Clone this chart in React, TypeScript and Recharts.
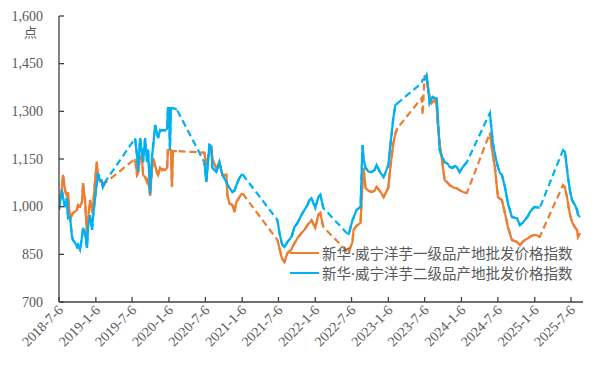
import React from 'react';
import { LineChart, Line, XAxis, YAxis } from 'recharts';

// Dates of observations; null values mark the off-season breaks (drawn as dashed connectors)
const dates = [
  '2018-7-6', '2018-7-11', '2018-7-21', '2018-7-26', '2018-8-5', '2018-8-15', '2018-8-20', '2018-8-30',
  '2018-9-9', '2018-9-14', '2018-9-24', '2018-10-4', '2018-10-9', '2018-10-19', '2018-10-29', '2018-11-3',
  '2018-11-13', '2018-11-23', '2018-11-28', '2018-12-8', '2018-12-18', '2018-12-23', '2019-1-1', '2019-1-11',
  '2019-1-16', '2019-1-26', '2019-2-5', '2019-2-10', '2019-2-20',
  '2019-4-15',
  '2019-7-21', '2019-7-31', '2019-8-5', '2019-8-15', '2019-8-25', '2019-8-30', '2019-9-9', '2019-9-19',
  '2019-9-24', '2019-10-4', '2019-10-14', '2019-10-19', '2019-10-29', '2019-11-8', '2019-11-13', '2019-11-23',
  '2019-12-3', '2019-12-8', '2019-12-18', '2019-12-28', '2020-1-1', '2020-1-6', '2020-1-11', '2020-1-16',
  '2020-1-21', '2020-1-26', '2020-2-5', '2020-2-15',
  '2020-4-15',
  '2020-7-1', '2020-7-11', '2020-7-26', '2020-8-5', '2020-8-10', '2020-8-30', '2020-9-14', '2020-9-29',
  '2020-10-19', '2020-10-24', '2020-11-3', '2020-11-18', '2020-11-28', '2020-12-8', '2020-12-23', '2021-1-6',
  '2021-4-1',
  '2021-7-1', '2021-7-11', '2021-7-21', '2021-7-26', '2021-8-5', '2021-8-20', '2021-9-9', '2021-9-14',
  '2021-9-24', '2021-10-9', '2021-10-29', '2021-11-13', '2021-11-28', '2021-12-8', '2021-12-18', '2022-1-6',
  '2022-1-21', '2022-1-31', '2022-2-15',
  '2022-4-15',
  '2022-6-21', '2022-7-11', '2022-7-16', '2022-7-31', '2022-8-20', '2022-8-30', '2022-9-4', '2022-9-14',
  '2022-9-29', '2022-10-14', '2022-10-29', '2022-11-8', '2022-11-18', '2022-11-28', '2022-12-13', '2023-1-6',
  '2023-1-16', '2023-1-31', '2023-2-10', '2023-2-20',
  '2023-4-15',
  '2023-6-21', '2023-6-26',
  '2023-7-6', '2023-7-16', '2023-7-31', '2023-8-10', '2023-8-15', '2023-8-25', '2023-9-4', '2023-9-9',
  '2023-9-19', '2023-9-29', '2023-10-14', '2023-10-29', '2023-11-8', '2023-11-23', '2023-12-3', '2023-12-13',
  '2023-12-28', '2024-1-13', '2024-2-2',
  '2024-4-1',
  '2024-5-27', '2024-6-11', '2024-6-21', '2024-7-1', '2024-7-6', '2024-7-16', '2024-7-26', '2024-8-10',
  '2024-8-25', '2024-9-14', '2024-9-29', '2024-10-9', '2024-10-24', '2024-11-8', '2024-11-18', '2024-12-3',
  '2024-12-13', '2024-12-28', '2025-1-6', '2025-1-16', '2025-1-31',
  '2025-3-20',
  '2025-5-27', '2025-6-6', '2025-6-16', '2025-6-21', '2025-7-1', '2025-7-11', '2025-7-26', '2025-8-5',
  '2025-8-10', '2025-8-20',
];

const gradeOneIndex = [
  1040, 1021, 1060, 1100, 1052, 1030, 1045, 958,
  975, 980, 985, 990, 1005, 1000, 1015, 1074,
  1021, 905, 960, 1021, 990, 1000, 1074, 1141,
  1093, 1080, 1078, 1062, 1074,
  null,
  1150, 1100, 1106, 1158, 1147, 1100, 1093, 1078,
  1090, 1035, 1120, 1153, 1130, 1106, 1100, 1122,
  1115, 1118, 1115, 1122, 1178, 1178, 1178, 1178,
  1062, 1175, 1175, 1175,
  null,
  1170, 1131, 1172, 1188, 1150, 1120, 1140, 1100,
  1100, 1037, 1010, 1005, 983, 1015, 1030, 1043,
  null,
  895, 870, 842, 835, 826, 854, 865, 873,
  885, 901, 917, 927, 942, 950, 958, 933,
  974, 980, 936,
  null,
  855, 890, 927, 940, 949, 1080, 1122, 1059,
  1050, 1046, 1050, 1062, 1055, 1046, 1030, 1060,
  1125, 1200, 1230, 1247,
  null,
  1342, 1288,
  1414, 1400, 1345, 1326, 1330, 1336, 1320, 1266,
  1200, 1156, 1084, 1075, 1068, 1062, 1059, 1058,
  1052, 1046, 1043,
  null,
  1232, 1160, 1125, 1060, 1030, 1025, 1021, 980,
  936, 895, 892, 889, 879, 890, 895, 900,
  905, 910, 911, 910, 905,
  null,
  1068, 1060, 1030, 1010, 975, 952, 935, 927,
  905, 917,
];

const gradeTwoIndex = [
  990, 1011, 1052, 1030, 999, 1027, 964, 967,
  905, 895, 886, 873, 880, 864, 905, 933,
  917, 870, 936, 974, 927, 967, 1021, 1074,
  1106, 1085, 1082, 1062, 1077,
  null,
  1215, 1160, 1110, 1216, 1165, 1140, 1216, 1140,
  1180, 1040, 1162, 1188, 1257, 1230, 1216, 1241,
  1240, 1241, 1240, 1245, 1310, 1310, 1180, 1310,
  1310, 1310, 1308, 1305,
  null,
  1140, 1078, 1194, 1190, 1122, 1110, 1140, 1100,
  1078, 1070, 1059, 1046, 1050, 1068, 1090, 1103,
  null,
  958, 917, 890, 879, 873, 889, 905, 915,
  936, 949, 974, 990, 1005, 1021, 1027, 996,
  1030, 1037, 996,
  null,
  911, 958, 965, 990, 999, 1194, 1150, 1122,
  1110, 1109, 1115, 1131, 1118, 1106, 1093, 1131,
  1194, 1280, 1320, 1325,
  null,
  1389, 1400,
  1400, 1414, 1326, 1340, 1345, 1342, 1340, 1295,
  1178, 1160, 1140, 1135, 1125, 1122, 1128, 1125,
  1109, 1125, 1140,
  null,
  1295, 1200, 1165, 1137, 1125, 1106, 1100, 1062,
  1011, 967, 965, 964, 942, 950, 958, 970,
  983, 995, 999, 998, 996,
  null,
  1178, 1172, 1120, 1093, 1050, 1021, 1005, 990,
  975, 967,
];

// points that only lie on the dashed connector (not on a solid season segment)
const connectorOnlyDates = ['2023-6-21', '2023-6-26'];

const xTickLabels = [
  '2018-7-6', '2019-1-6', '2019-7-6', '2020-1-6', '2020-7-6', '2021-1-6', '2021-7-6', '2022-1-6',
  '2022-7-6', '2023-1-6', '2023-7-6', '2024-1-6', '2024-7-6', '2025-1-6', '2025-7-6',
];
const xDomainDates = ['2018-7-6', '2025-9-4'];
const yTicks = [700, 850, 1000, 1150, 1300, 1450, 1600];
const seriesNames = ['新华·威宁洋芋一级品产地批发价格指数', '新华·威宁洋芋二级品产地批发价格指数'];
const unitLabel = '点';

const ORANGE = '#ED7D31';
const BLUE = '#00B0F0';
const TEXT = '#595959';
const AXIS = '#404040';
const SERIF = "'Times New Roman', 'Liberation Serif', serif";
const CJK = "'Noto Sans CJK SC', 'Noto Sans', sans-serif";
const LEGEND_FONT = "'Noto Sans', 'Noto Sans CJK SC', sans-serif";

const toDay = (s: string) => {
  const [y, m, d] = s.split('-').map(Number);
  return Date.UTC(y, m - 1, d) / 86400000;
};

const rows = dates.map((d, i) => {
  const connectorOnly = connectorOnlyDates.includes(d);
  return {
    t: toDay(d),
    o: gradeOneIndex[i],
    b: gradeTwoIndex[i],
    oS: connectorOnly ? null : gradeOneIndex[i],
    bS: connectorOnly ? null : gradeTwoIndex[i],
  };
});

const xTickDays = xTickLabels.map(toDay);
const labelByDay: Record<number, string> = {};
xTickLabels.forEach((l) => (labelByDay[toDay(l)] = l));

const XTick = (props: any) => {
  const { x, y, payload } = props;
  return (
    <g>
      <line x1={x} x2={x} y1={y} y2={y - 5} stroke={AXIS} strokeWidth={1.3} />
      <text
        x={x + 5}
        y={y + 9}
        textAnchor="end"
        fill={TEXT}
        fontFamily={SERIF}
        fontSize={14}
        transform={`rotate(-45, ${x + 5}, ${y + 9})`}
      >
        {labelByDay[payload.value]}
      </text>
    </g>
  );
};

const YTick = (props: any) => {
  const { x, y, payload } = props;
  return (
    <g>
      <line x1={x + 16} x2={x + 21} y1={y} y2={y} stroke={AXIS} strokeWidth={1.3} />
      <text x={x} y={y} textAnchor="end" dominantBaseline="central" fill={TEXT} fontFamily={SERIF} fontSize={14}>
        {Number(payload.value).toLocaleString('en-US')}
      </text>
    </g>
  );
};

export default function App() {
  return (
    <div style={{ position: 'absolute', left: 0, top: 0, width: 600, height: 368, background: '#fff' }}>
      <LineChart width={600} height={368} data={rows} margin={{ top: 16, right: 17, left: 0, bottom: 0 }}>
        <XAxis
          dataKey="t"
          type="number"
          domain={[toDay(xDomainDates[0]), toDay(xDomainDates[1])]}
          ticks={xTickDays}
          interval={0}
          allowDataOverflow
          height={66}
          tickSize={0}
          tickMargin={0}
          tickLine={false}
          axisLine={{ stroke: AXIS, strokeWidth: 1.3 }}
          tick={(p: any) => <XTick {...p} />}
        />
        <YAxis
          type="number"
          domain={[700, 1600]}
          ticks={yTicks}
          interval={0}
          width={59}
          tickSize={0}
          tickMargin={16}
          tickLine={false}
          axisLine={{ stroke: AXIS, strokeWidth: 1.3 }}
          tick={(p: any) => <YTick {...p} />}
        />
        <Line dataKey="o" stroke={ORANGE} strokeWidth={2.2} strokeDasharray="7 4" dot={false} activeDot={false} connectNulls isAnimationActive={false} />
        <Line dataKey="b" stroke={BLUE} strokeWidth={2.2} strokeDasharray="7 4" dot={false} activeDot={false} connectNulls isAnimationActive={false} />
        <Line dataKey="oS" name={seriesNames[0]} stroke={ORANGE} strokeWidth={2.2} dot={false} activeDot={false} isAnimationActive={false} />
        <Line dataKey="bS" name={seriesNames[1]} stroke={BLUE} strokeWidth={2.2} dot={false} activeDot={false} isAnimationActive={false} />
      </LineChart>
      <div style={{ position: 'absolute', left: 24, top: 24, fontFamily: CJK, fontSize: 13, color: TEXT, lineHeight: '16px' }}>
        {unitLabel}
      </div>
      {seriesNames.map((name, i) => (
        <div
          key={name}
          style={{ position: 'absolute', left: 290, top: 243 + i * 20, height: 20, display: 'flex', alignItems: 'center', whiteSpace: 'nowrap' }}
        >
          <span style={{ display: 'inline-block', width: 29, height: 2, background: i === 0 ? ORANGE : BLUE }} />
          <span style={{ marginLeft: 3, fontFamily: LEGEND_FONT, fontSize: 14.5, color: TEXT, lineHeight: '20px' }}>{name}</span>
        </div>
      ))}
    </div>
  );
}
